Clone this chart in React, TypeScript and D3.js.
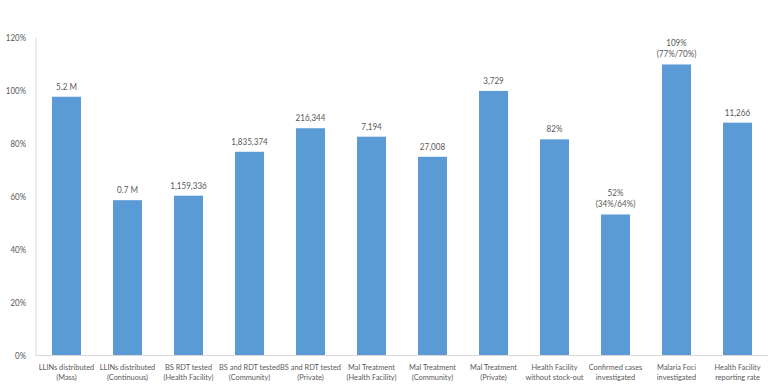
import React from "react";
import * as d3 from "d3";

const categories: string[][] = [
  ["LLINs distributed", "(Mass)"],
  ["LLINs distributed", "(Continuous)"],
  ["BS RDT tested", "(Health Facility)"],
  ["BS and RDT tested", "(Community)"],
  ["BS and RDT tested", "(Private)"],
  ["Mal Treatment", "(Health Facility)"],
  ["Mal Treatment", "(Community)"],
  ["Mal Treatment", "(Private)"],
  ["Health Facility", "without stock-out"],
  ["Confirmed cases", "investigated"],
  ["Malaria Foci", "investigated"],
  ["Health Facility", "reporting rate"],
];
const values: number[] = [97.8, 58.7, 60.4, 77.0, 85.9, 82.7, 75.1, 100, 81.7, 53.3, 110, 88.0];
const valueLabels: string[][] = [
  ["5.2 M"],
  ["0.7 M"],
  ["1,159,336"],
  ["1,835,374"],
  ["216,344"],
  ["7,194"],
  ["27,008"],
  ["3,729"],
  ["82%"],
  ["52%", "(34%/64%)"],
  ["109%", "(77%/70%)"],
  ["11,266"],
];
const yTicks: number[] = [0, 20, 40, 60, 80, 100, 120];

export default function App() {
  const W = 780, H = 388;
  const left = 36, right = 768, top = 38, bottom = 355.5;
  const x = d3.scaleBand<number>().domain(d3.range(categories.length)).range([left, right]).paddingInner(0.525).paddingOuter(0.2625);
  const y = d3.scaleLinear().domain([0, 120]).range([bottom, top]);
  const font = "Lato, sans-serif";
  const textColor = "#595959";
  const sx = 0.88;
  return (
    <svg width={W} height={H} style={{ position: "absolute", left: 0, top: 0 }} fontFamily={font}>
      <rect width={W} height={H} fill="#fff" />
      <line x1={left} x2={left} y1={top} y2={bottom} stroke="#D9D9D9" strokeWidth={1} />
      {yTicks.map((t) => (
        <text key={t} transform={`translate(26,${y(t)}) scale(${sx},1)`} dy="0.35em" textAnchor="end" fontSize={9} fill={textColor}>
          {t}%
        </text>
      ))}
      {values.map((v, i) => (
        <rect key={i} x={x(i)} y={y(v)} width={x.bandwidth()} height={bottom - y(v)} fill="#5B9BD5" />
      ))}
      <line x1={left} x2={right} y1={bottom} y2={bottom} stroke="#D9D9D9" strokeWidth={1} />
      {values.map((v, i) => {
        const lines = valueLabels[i];
        const cx = (x(i) as number) + x.bandwidth() / 2;
        return (
          <text key={i} transform={`translate(${cx},${y(v) - 7}) scale(${sx},1)`} textAnchor="middle" fontSize={9.2} fill={textColor}>
            {lines.map((l, j) => (
              <tspan key={j} x={0} y={-(lines.length - 1 - j) * 11}>
                {l}
              </tspan>
            ))}
          </text>
        );
      })}
      {categories.map((c, i) => {
        const cx = (x(i) as number) + x.bandwidth() / 2;
        return (
          <text key={i} transform={`translate(${cx},370) scale(${sx},1)`} textAnchor="middle" fontSize={8.4} fill={textColor}>
            {c.map((l, j) => (
              <tspan key={j} x={0} y={j * 10}>
                {l}
              </tspan>
            ))}
          </text>
        );
      })}
    </svg>
  );
}
